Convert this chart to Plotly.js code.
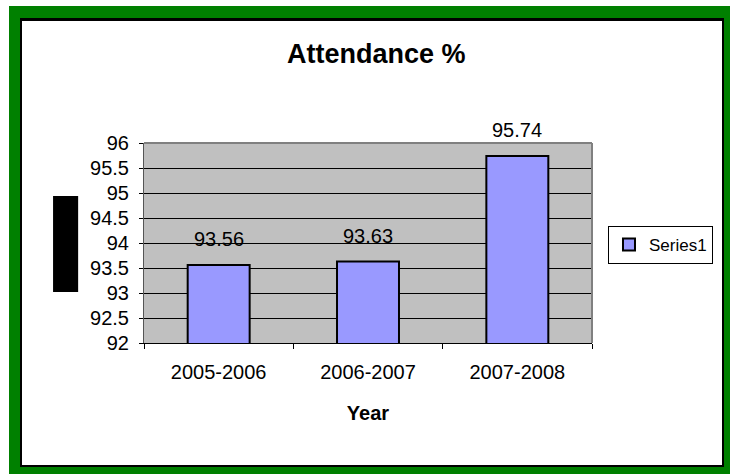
<!DOCTYPE html>
<html>
<head>
<meta charset="utf-8">
<script src="https://cdn.plot.ly/plotly-3.0.1.min.js"></script>
<style>
  html, body { margin: 0; padding: 0; background: #ffffff; }
  #wrap { position: relative; width: 732px; height: 474px; overflow: hidden; background: #ffffff; }
  #green { position: absolute; left: 9px; top: 6px; width: 721px; height: 468px; background: #008000; }
  #black { position: absolute; left: 20px; top: 18px; width: 704px; height: 449px; background: #000000; }
  #white { position: absolute; left: 22px; top: 21px; width: 700px; height: 444px; background: #ffffff; }
  #chart { position: absolute; left: 0; top: 0; width: 732px; height: 474px; }
</style>
</head>
<body>
<div id="wrap">
  <div id="green"></div>
  <div id="black"></div>
  <div id="white"></div>
  <div id="chart"></div>
</div>
<script>
const categories = ["2005-2006", "2006-2007", "2007-2008"];
const series1 = [93.56, 93.63, 95.74];
const seriesName = "Series1";
const chartTitle = "Attendance %";
const xTitle = "Year";

const FONT = "Liberation Sans, Arial, sans-serif";

const trace = {
  type: "bar",
  x: categories,
  y: series1,
  name: seriesName,
  marker: { color: "#9999FF", line: { color: "#000000", width: 2 } },
  showlegend: true,
  hoverinfo: "none"
};

const labels = categories.map((c, i) => ({
  x: c, y: series1[i], xref: "x", yref: "y",
  text: String(series1[i]),
  showarrow: false, yanchor: "bottom", yshift: 13,
  font: { family: FONT, size: 20, color: "#000000" }
}));

const layout = {
  width: 732, height: 474,
  margin: { l: 144, r: 140, t: 143, b: 131, autoexpand: false },
  paper_bgcolor: "rgba(0,0,0,0)",
  plot_bgcolor: "#C0C0C0",
  font: { family: FONT, color: "#000000" },
  title: {
    text: "<b>" + chartTitle + "</b>",
    font: { family: FONT, size: 27, color: "#000000" },
    x: 0.514, xanchor: "center", y: 0.886, yanchor: "middle"
  },
  bargap: 0.585,
  xaxis: {
    type: "category",
    tickson: "boundaries",
    ticks: "outside", ticklen: 5, tickcolor: "#000000", tickwidth: 1,
    ticklabelstandoff: 11,
    showline: true, linecolor: "#000000", linewidth: 1,
    showgrid: false, zeroline: false,
    tickfont: { family: FONT, size: 20, color: "#000000" },
    title: { text: "<b>" + xTitle + "</b>", font: { family: FONT, size: 20, color: "#000000" }, standoff: 23 },
    automargin: false
  },
  yaxis: {
    range: [92, 96], dtick: 0.5, tick0: 92,
    ticks: "outside", ticklen: 4, tickcolor: "#000000", tickwidth: 1,
    ticklabelstandoff: 6,
    showline: true, linecolor: "#555555", linewidth: 1,
    showgrid: true, gridcolor: "#000000", gridwidth: 1,
    zeroline: false,
    tickfont: { family: FONT, size: 20, color: "#000000" },
    automargin: false
  },
  legend: {
    x: 1.0357, xanchor: "left", y: 0.585, yanchor: "top",
    bgcolor: "#ffffff", bordercolor: "#000000", borderwidth: 1,
    font: { family: FONT, size: 17, color: "#000000" },
    itemwidth: 30
  },
  shapes: [
    { type: "line", xref: "paper", yref: "paper", x0: 0, x1: 1, y0: 1, y1: 1, line: { color: "#808080", width: 2 } },
    { type: "line", xref: "paper", yref: "paper", x0: 1, x1: 1, y0: 0, y1: 1, line: { color: "#808080", width: 2 } },
    { type: "rect", xref: "paper", yref: "paper", x0: -0.203, x1: -0.147, y0: 0.255, y1: 0.735, fillcolor: "#000000", line: { width: 0 } }
  ],
  annotations: labels
};

Plotly.newPlot("chart", [trace], layout, { displayModeBar: false, staticPlot: true });
</script>
</body>
</html>
